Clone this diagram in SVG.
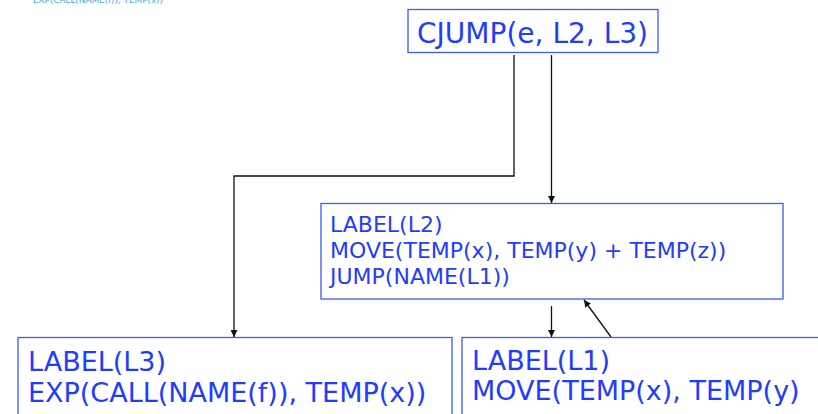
<svg xmlns="http://www.w3.org/2000/svg" width="818" height="414" viewBox="0 0 818 414">
  <style>
    .box { fill: #ffffff; stroke: #3a5cf0; stroke-width: 1.3; }
    .t { font-family: "DejaVu Sans", Verdana, sans-serif; fill: #1f3cff; }
    .edge { fill: none; stroke: #111111; stroke-width: 1.3; }
    .note { font-family: "DejaVu Sans", Verdana, sans-serif; fill: #4aa6f2; font-size: 9px; }
  </style>
  <defs>
    <marker id="arrow" viewBox="0 0 10 10" refX="10" refY="5" markerWidth="7" markerHeight="7" markerUnits="userSpaceOnUse" orient="auto">
      <path d="M0,0 L10,5 L0,10 z" fill="#111111"/>
    </marker>
  </defs>
  <rect width="818" height="414" fill="#ffffff"/>

  <!-- header remnant -->
  <text class="note" x="33" y="3" textLength="130" lengthAdjust="spacingAndGlyphs">EXP(CALL(NAME(f)), TEMP(x))</text>

  <g id="cjump">
    <rect class="box" x="408" y="9.5" width="250" height="43"/>
    <text class="t" x="417" y="43" font-size="28" textLength="231" lengthAdjust="spacingAndGlyphs">CJUMP(e, L2, L3)</text>
  </g>

  <g id="l2">
    <rect class="box" x="321" y="203.5" width="462" height="95.5"/>
    <text class="t" font-size="22">
      <tspan x="330" y="232">LABEL(L2)</tspan>
      <tspan x="330" y="258">MOVE(TEMP(x), TEMP(y) + TEMP(z))</tspan>
      <tspan x="330" y="284">JUMP(NAME(L1))</tspan>
    </text>
  </g>

  <g id="l3">
    <rect class="box" x="18" y="337.5" width="434" height="100"/>
    <text class="t" font-size="27">
      <tspan x="28" y="371">LABEL(L3)</tspan>
      <tspan x="28" y="402">EXP(CALL(NAME(f)), TEMP(x))</tspan>
    </text>
  </g>

  <g id="l1">
    <rect class="box" x="462" y="337.5" width="380" height="100"/>
    <text class="t" font-size="27">
      <tspan x="472" y="370">LABEL(L1)</tspan>
      <tspan x="472" y="400">MOVE(TEMP(x), TEMP(y)</tspan>
    </text>
  </g>

  <g id="connectors">
    <polyline class="edge" points="514,55 514,176 234,176 234,337" marker-end="url(#arrow)"/>
    <line class="edge" x1="551.5" y1="55" x2="551.5" y2="203" marker-end="url(#arrow)"/>
    <line class="edge" x1="551.5" y1="306" x2="551.5" y2="337" marker-end="url(#arrow)"/>
    <line class="edge" x1="611" y1="337" x2="584" y2="300" marker-end="url(#arrow)"/>
  </g>
</svg>
